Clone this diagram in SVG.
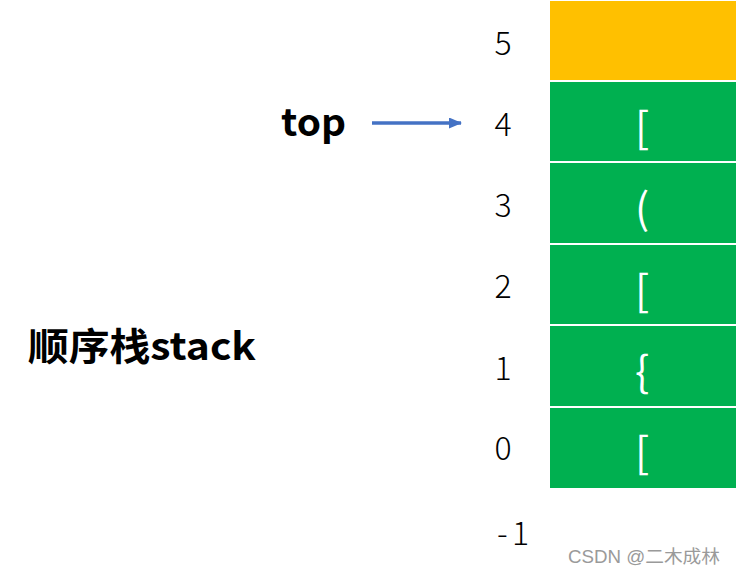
<svg xmlns="http://www.w3.org/2000/svg" width="736" height="575" viewBox="0 0 736 575">
<style>
.idx{font-family:"Noto Sans CJK SC","Liberation Sans",sans-serif;font-weight:300;font-size:32px;fill:#000;text-anchor:middle}
.br{font-family:"Noto Sans CJK SC","Liberation Sans",sans-serif;font-weight:400;font-size:42px;fill:#fff;text-anchor:middle}
.lbl{font-family:"Noto Sans CJK SC","Liberation Sans",sans-serif;font-weight:bold;font-size:38px;fill:#000}
.g{fill:#00B050}
</style>
<defs>
<marker id="ah" markerWidth="13" markerHeight="11" refX="12" refY="5.5" orient="auto" markerUnits="userSpaceOnUse">
<path d="M0,0 L13,5.5 L0,11 Z" fill="#4472C4"/>
</marker>
</defs>
<rect width="736" height="575" fill="#fff"/>
<g id="cell5"><rect x="550" y="1" width="186" height="79" fill="#FFC000"/><text class="idx" x="503" y="55">5</text></g>
<g id="cell4"><rect class="g" x="550" y="82" width="186" height="79"/><text class="br" x="642" y="143">[</text><text class="idx" x="503" y="136">4</text></g>
<g id="cell3"><rect class="g" x="550" y="163" width="186" height="80"/><text class="br" x="642" y="224">(</text><text class="idx" x="503" y="217">3</text></g>
<g id="cell2"><rect class="g" x="550" y="245" width="186" height="79"/><text class="br" x="642" y="306">[</text><text class="idx" x="503" y="298">2</text></g>
<g id="cell1"><rect class="g" x="550" y="326" width="186" height="80"/><text class="br" x="642" y="387">{</text><text class="idx" x="503" y="380">1</text></g>
<g id="cell0"><rect class="g" x="550" y="408" width="186" height="80"/><text class="br" x="642" y="468">[</text><text class="idx" x="503" y="460">0</text></g>
<g id="bottom"><text class="idx" x="513" y="545" textLength="32" lengthAdjust="spacing">-1</text></g>
<g id="top"><text class="lbl" x="281" y="136" textLength="65" lengthAdjust="spacingAndGlyphs">top</text></g>
<g id="title"><text class="lbl" x="28" y="360" textLength="228" lengthAdjust="spacingAndGlyphs">顺序栈stack</text></g>
<g id="connectors"><line x1="372" y1="123" x2="461" y2="123" stroke="#4472C4" stroke-width="3.5" marker-end="url(#ah)"/></g>
<text x="568" y="563" font-family="Liberation Sans,'Noto Sans CJK SC',sans-serif" font-size="18" fill="#9a9a9a" textLength="152" lengthAdjust="spacingAndGlyphs">CSDN @二木成林</text>
</svg>
